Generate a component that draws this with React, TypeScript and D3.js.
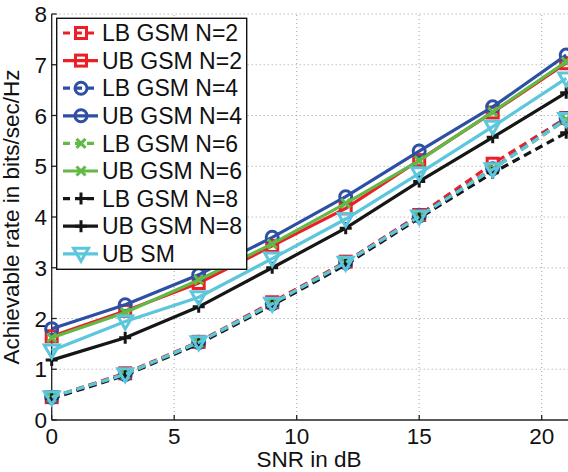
import React from "react";
import * as d3 from "d3";

const snr = [0, 3, 6, 9, 12, 15, 18, 21];
const lbN2 = [0.45, 0.92, 1.54, 2.32, 3.12, 4.04, 5.05, 5.95];
const ubN2 = [1.65, 2.15, 2.7, 3.43, 4.17, 5.12, 6.06, 7.03];
const lbN4 = [0.45, 0.9, 1.53, 2.29, 3.1, 4.02, 4.95, 5.94];
const ubN4 = [1.8, 2.27, 2.86, 3.6, 4.4, 5.3, 6.17, 7.19];
const lbN6 = [0.45, 0.9, 1.53, 2.29, 3.1, 4.01, 4.94, 5.92];
const ubN6 = [1.62, 2.12, 2.76, 3.47, 4.27, 5.11, 6.07, 7.06];
const lbN8 = [0.42, 0.88, 1.5, 2.26, 3.06, 3.98, 4.87, 5.66];
const ubN8 = [1.18, 1.62, 2.23, 3.0, 3.78, 4.7, 5.57, 6.45];
const ubSM = [1.37, 1.94, 2.42, 3.18, 3.96, 4.86, 5.78, 6.73];
const lbSM = [0.45, 0.9, 1.53, 2.29, 3.1, 4.01, 4.94, 5.93];

const xTicks = [0, 5, 10, 15, 20];
const yTicks = [0, 1, 2, 3, 4, 5, 6, 7, 8];

const RED = "#ec1f27";
const BLUE = "#2e4fa3";
const GREEN = "#62b946";
const BLACK = "#161616";
const CYAN = "#5cc6dc";

type Marker = "square" | "circle" | "x" | "plus" | "tri";
type Series = { name: string; values: number[]; color: string; dashed: boolean; marker: Marker; legend: boolean };

const series: Series[] = [
  { name: "LB GSM N=2", values: lbN2, color: RED, dashed: true, marker: "square", legend: true },
  { name: "UB GSM N=2", values: ubN2, color: RED, dashed: false, marker: "square", legend: true },
  { name: "LB GSM N=4", values: lbN4, color: BLUE, dashed: true, marker: "circle", legend: true },
  { name: "UB GSM N=4", values: ubN4, color: BLUE, dashed: false, marker: "circle", legend: true },
  { name: "LB GSM N=6", values: lbN6, color: GREEN, dashed: true, marker: "x", legend: true },
  { name: "UB GSM N=6", values: ubN6, color: GREEN, dashed: false, marker: "x", legend: true },
  { name: "LB GSM N=8", values: lbN8, color: BLACK, dashed: true, marker: "plus", legend: true },
  { name: "UB GSM N=8", values: ubN8, color: BLACK, dashed: false, marker: "plus", legend: true },
  { name: "UB SM", values: ubSM, color: CYAN, dashed: false, marker: "tri", legend: true },
  { name: "LB SM", values: lbSM, color: CYAN, dashed: true, marker: "tri", legend: false },
];

const W = 568;
const H = 472;
const x = d3.scaleLinear().domain([0, 21]).range([51.7, 566.2]);
const y = d3.scaleLinear().domain([0, 8]).range([420, 14]);
const FONT = "'Liberation Sans', Arial, Helvetica, sans-serif";

function MarkerShape({ kind, cx, cy, color }: { kind: Marker; cx: number; cy: number; color: string }) {
  const sw = 3;
  switch (kind) {
    case "square":
      return <rect x={cx - 5.5} y={cy - 5.5} width={11} height={11} fill="none" stroke={color} strokeWidth={sw} />;
    case "circle":
      return <circle cx={cx} cy={cy} r={6} fill="none" stroke={color} strokeWidth={sw} />;
    case "x":
      return (
        <path d={`M${cx - 4.5},${cy - 4.5}L${cx + 4.5},${cy + 4.5}M${cx - 4.5},${cy + 4.5}L${cx + 4.5},${cy - 4.5}`} stroke={color} strokeWidth={sw} fill="none" />
      );
    case "plus":
      return (
        <path d={`M${cx - 6},${cy}L${cx + 6},${cy}M${cx},${cy - 6}L${cx},${cy + 6}`} stroke={color} strokeWidth={sw} fill="none" />
      );
    case "tri":
      return (
        <path d={`M${cx - 7.5},${cy - 5.5}L${cx + 7.5},${cy - 5.5}L${cx},${cy + 7.5}Z`} stroke={color} strokeWidth={sw} fill="none" strokeLinejoin="miter" />
      );
  }
}

export default function App() {
  const line = d3
    .line<number>()
    .x((_, i) => x(snr[i]))
    .y((d) => y(d));

  const legendRows = series.filter((s) => s.legend);
  const legX0 = 56.7;
  const legY0 = 18.3;
  const legW = 190;
  const legH = 251;
  const rowStep = 27.6;
  const row0 = 33;

  return (
    <svg width={W} height={H} style={{ position: "absolute", left: 0, top: 0, background: "#fff" }} fontFamily={FONT}>
      <rect x={0} y={0} width={W} height={H} fill="#fff" />
      {/* grid */}
      {xTicks.map((t) => (
        <line key={"gx" + t} x1={x(t)} x2={x(t)} y1={y(0)} y2={y(8)} stroke="#a0a0a0" strokeWidth={1} strokeDasharray="1,3" />
      ))}
      {yTicks.filter((t) => t > 0).map((t) => (
        <line key={"gy" + t} x1={x(0)} x2={W} y1={y(t)} y2={y(t)} stroke="#a0a0a0" strokeWidth={1} strokeDasharray="1,3" />
      ))}
      {/* axes */}
      <line x1={x(0)} x2={W} y1={y(0)} y2={y(0)} stroke="#222" strokeWidth={1.3} />
      <line x1={x(0)} x2={x(0)} y1={y(0)} y2={y(8)} stroke="#222" strokeWidth={1.3} />
      {xTicks.map((t) => (
        <line key={"tx" + t} x1={x(t)} x2={x(t)} y1={y(0)} y2={y(0) - 5} stroke="#222" strokeWidth={1.3} />
      ))}
      {yTicks.map((t) => (
        <line key={"ty" + t} x1={x(0)} x2={x(0) + 5} y1={y(t)} y2={y(t)} stroke="#222" strokeWidth={1.3} />
      ))}
      {xTicks.map((t) => (
        <text key={"lx" + t} x={x(t)} y={443.5} textAnchor="middle" fontSize={22.5} fill="#111">
          {t}
        </text>
      ))}
      {yTicks.map((t) => (
        <text key={"ly" + t} x={47} y={y(t)} dy="0.36em" textAnchor="end" fontSize={22.5} fill="#111">
          {t}
        </text>
      ))}
      <text x={(x(0) + x(21)) / 2} y={466.5} textAnchor="middle" fontSize={22.5} fill="#111">
        SNR in dB
      </text>
      <text
        transform={`translate(${18.5},${(y(0) + y(8)) / 2}) rotate(-90)`}
        textAnchor="middle"
        fontSize={22.5}
        fill="#111"
      >
        Achievable rate in bits/sec/Hz
      </text>
      {/* series */}
      {series.map((s) => (
        <g key={s.name}>
          <path
            d={line(s.values) || ""}
            fill="none"
            stroke={s.color}
            strokeWidth={3.2}
            strokeDasharray={s.dashed ? "8,5" : undefined}
          />
          {s.values.map((v, i) => (
            <MarkerShape key={i} kind={s.marker} cx={x(snr[i])} cy={y(v)} color={s.color} />
          ))}
        </g>
      ))}
      {/* legend */}
      <rect x={legX0} y={legY0} width={legW} height={legH} fill="#fff" stroke="#111" strokeWidth={1.4} />
      {legendRows.map((s, i) => {
        const cy = row0 + i * rowStep;
        return (
          <g key={"lg" + s.name}>
            <line x1={63} x2={98} y1={cy} y2={cy} stroke={s.color} strokeWidth={3.2} strokeDasharray={s.dashed ? "7,5" : undefined} />
            <MarkerShape kind={s.marker} cx={81} cy={cy} color={s.color} />
            <text x={102} y={cy} dy="0.36em" fontSize={23} fill="#111">
              {s.name}
            </text>
          </g>
        );
      })}
    </svg>
  );
}
